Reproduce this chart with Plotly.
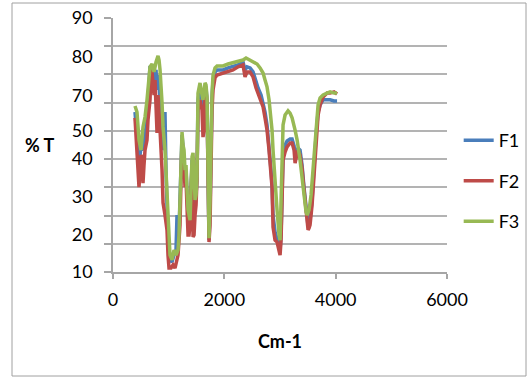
import plotly.graph_objects as go

# Wavenumber (cm-1) and %T readings for each sample
f1_x = [395, 413, 449, 467, 485, 503, 539, 575, 611, 629, 665, 701, 737, 773, 791, 809, 845, 881, 899, 934,
        952, 970, 988, 1024, 1060, 1096, 1132, 1150, 1168, 1186, 1204, 1240, 1258, 1276, 1294, 1312, 1330, 1348,
        1384, 1402, 1420, 1438, 1456, 1474, 1492, 1509, 1527, 1563, 1599, 1617, 1653, 1671, 1689, 1707, 1725,
        1743, 1761, 1779, 1797, 1833, 1869, 1977, 2067, 2156, 2246, 2336, 2372, 2408, 2462, 2516, 2570, 2606,
        2660, 2696, 2731, 2767, 2803, 2839, 2857, 2875, 2911, 2947, 2983, 3001, 3019, 3037, 3055, 3091, 3127,
        3181, 3217, 3253, 3271, 3289, 3324, 3360, 3396, 3432, 3468, 3486, 3504, 3522, 3540, 3576, 3612, 3648,
        3684, 3720, 3774, 3846, 3900, 3971, 4025]
f1_y = [56.7, 52.1, 43.2, 39.7, 41.5, 43.9, 43.2, 48.6, 53.9, 61.0, 73.0, 72.3, 68.0, 71.6, 64.5, 69.8, 62.7,
        53.9, 43.2, 56.7, 36.1, 20.2, 11.3, 4.3, 3.5, 6.0, 7.8, 20.2, 13.1, 14.9, 23.7, 48.6, 44.0, 39.7, 33.3,
        36.1, 27.3, 20.2, 20.2, 32.6, 39.7, 29.1, 25.5, 23.7, 27.3, 33.3, 61.0, 65.2, 61.0, 55.6, 65.2, 65.2,
        61.0, 23.7, 11.3, 22.0, 50.3, 61.7, 68.0, 70.9, 71.6, 71.6, 72.3, 72.7, 73.4, 74.4, 71.6, 72.7, 72.3,
        70.9, 67.3, 65.2, 62.7, 60.2, 56.7, 52.1, 45.0, 36.1, 30.8, 20.2, 14.2, 12.0, 9.6, 7.8, 13.1, 25.5,
        41.5, 45.0, 46.4, 47.1, 47.1, 44.7, 41.5, 42.5, 43.9, 43.2, 37.9, 29.8, 22.0, 17.7, 16.3, 17.0, 18.4,
        25.5, 37.9, 48.6, 56.7, 59.2, 61.0, 61.0, 61.0, 60.6, 60.6]

f2_x = [395, 413, 449, 467, 485, 503, 521, 539, 557, 575, 611, 629, 665, 683, 701, 719, 737, 755, 773, 791,
        809, 827, 845, 881, 899, 934, 970, 988, 1006, 1042, 1078, 1114, 1150, 1168, 1186, 1204, 1222, 1240,
        1258, 1276, 1294, 1312, 1330, 1348, 1366, 1384, 1402, 1420, 1438, 1456, 1474, 1492, 1509, 1527, 1563,
        1599, 1617, 1635, 1653, 1671, 1689, 1707, 1725, 1743, 1761, 1779, 1797, 1833, 1869, 1977, 2067, 2156,
        2246, 2336, 2372, 2408, 2462, 2516, 2570, 2606, 2660, 2696, 2731, 2767, 2803, 2839, 2857, 2875, 2911,
        2947, 2983, 3001, 3019, 3037, 3055, 3091, 3127, 3181, 3217, 3253, 3271, 3289, 3324, 3360, 3396, 3432,
        3468, 3486, 3504, 3522, 3540, 3576, 3612, 3648, 3684, 3720, 3774, 3846, 3900, 3971, 4025]
f2_y = [54.6, 47.5, 37.9, 30.1, 36.1, 41.5, 39.7, 31.5, 37.9, 43.2, 46.8, 53.9, 61.0, 71.6, 70.9, 66.3, 62.7,
        68.0, 57.4, 49.3, 62.7, 57.4, 50.3, 36.1, 24.5, 20.2, 14.9, 6.0, 1.4, 1.4, 2.5, 1.4, 5.0, 6.0, 11.3,
        16.7, 32.6, 46.8, 43.2, 34.4, 30.1, 32.6, 25.5, 13.1, 13.1, 16.7, 29.1, 37.9, 12.4, 13.1, 20.2, 23.7,
        32.6, 57.4, 61.0, 57.4, 47.8, 50.3, 62.7, 64.5, 59.2, 20.2, 10.6, 16.7, 43.2, 57.4, 64.5, 68.8, 69.8,
        70.5, 70.9, 71.6, 72.7, 73.4, 69.1, 70.9, 70.9, 69.1, 65.2, 63.4, 61.0, 58.5, 54.6, 50.3, 43.2, 34.4,
        30.1, 15.9, 11.3, 10.6, 7.8, 6.0, 11.3, 23.0, 39.7, 42.5, 44.3, 45.7, 45.7, 43.2, 38.6, 40.4, 43.2,
        41.5, 36.9, 29.1, 20.2, 16.7, 14.9, 15.6, 16.7, 23.7, 36.1, 46.8, 55.6, 59.2, 62.0, 63.4, 63.4, 63.8,
        63.1]

f3_x = [395, 431, 467, 503, 539, 575, 611, 629, 665, 701, 737, 773, 809, 827, 845, 881, 899, 934, 970, 988,
        1024, 1060, 1096, 1132, 1168, 1186, 1204, 1240, 1258, 1276, 1294, 1312, 1330, 1348, 1384, 1402, 1420,
        1438, 1456, 1474, 1492, 1509, 1527, 1563, 1599, 1617, 1653, 1671, 1689, 1707, 1725, 1743, 1761, 1779,
        1797, 1833, 1869, 1977, 2067, 2156, 2246, 2336, 2390, 2462, 2534, 2588, 2642, 2696, 2731, 2767, 2803,
        2821, 2857, 2875, 2911, 2947, 2983, 3001, 3019, 3037, 3055, 3091, 3145, 3181, 3217, 3271, 3307, 3360,
        3396, 3432, 3468, 3486, 3522, 3558, 3594, 3630, 3666, 3684, 3720, 3774, 3846, 3900, 3971, 4025]
f3_y = [58.8, 56.7, 46.8, 43.2, 51.4, 54.9, 61.0, 64.5, 72.7, 73.7, 70.9, 74.4, 76.6, 75.1, 71.6, 59.9, 51.4,
        43.2, 25.5, 16.7, 6.0, 4.3, 7.8, 6.0, 7.8, 13.1, 25.5, 49.6, 45.0, 43.2, 36.1, 37.9, 29.1, 22.0, 18.4,
        32.6, 40.8, 42.2, 34.4, 25.5, 27.3, 33.7, 63.4, 67.0, 62.7, 61.0, 67.0, 66.3, 62.0, 25.5, 12.0, 25.5,
        53.9, 63.4, 69.8, 72.3, 73.0, 73.0, 73.7, 74.1, 74.4, 75.1, 75.8, 75.1, 74.4, 73.7, 72.3, 70.5, 68.0,
        65.6, 61.0, 57.4, 50.3, 43.2, 30.8, 22.0, 13.1, 11.3, 25.5, 43.2, 52.1, 55.6, 57.1, 56.3, 54.6, 50.3,
        46.8, 39.7, 32.6, 25.5, 21.3, 20.2, 22.0, 27.3, 36.1, 43.2, 53.9, 59.2, 61.7, 62.7, 63.4, 63.8, 63.4,
        63.4]

series_names = ["F1", "F2", "F3"]
series_colors = ["#4A7EBB", "#BE4B48", "#98B954"]

x_ticks = [0, 2000, 4000, 6000]
y_tick_text = ["90", "80", "70", "50", "40", "30", "20", "10"]
y_tick_pos = [90, 76.2, 62.4, 50.0, 40.0, 26.6, 13.1, 0]

FONT = "Lato, 'Open Sans', sans-serif"
FS = 18

fig = go.Figure()
for name, color, xs, ys in zip(series_names, series_colors,
                               [f1_x, f2_x, f3_x], [f1_y, f2_y, f3_y]):
    fig.add_trace(go.Scatter(x=xs, y=ys, mode="lines", name=name, legendgroup=name,
                             line=dict(color=color, width=3.5)))

fig.update_layout(
    width=527, height=378,
    margin=dict(l=113, r=80, t=18, b=106, autoexpand=False),
    paper_bgcolor="white", plot_bgcolor="white",
    font=dict(family=FONT, size=FS, color="black"),
    showlegend=True,
    legend=dict(x=1.035, y=0.59, xanchor="left", yanchor="top",
                tracegroupgap=14, font=dict(size=FS, family=FONT),
                bgcolor="rgba(0,0,0,0)"),
    xaxis=dict(range=[0, 6000], tickvals=x_ticks, ticks="outside", ticklen=5,
               tickcolor="#a6a6a6", tickwidth=1.5, ticklabelstandoff=6,
               showline=True, linecolor="#a6a6a6", linewidth=1.5, showgrid=False,
               zeroline=False, tickfont=dict(size=FS),
               title=dict(text="<b>Cm-1</b>", font=dict(size=FS), standoff=26)),
    yaxis=dict(range=[0, 90], tickvals=y_tick_pos, ticktext=y_tick_text, ticks="",
               showgrid=False, zeroline=False, showline=True, linecolor="#a6a6a6",
               linewidth=1.5, tickfont=dict(size=FS), ticklabelstandoff=15,
               minor=dict(dtick=10, tick0=0, showgrid=True, gridcolor="#b3b3b3",
                          gridwidth=1.5, ticks="outside", ticklen=7,
                          tickcolor="#a6a6a6", tickwidth=1.5)),
)

fig.add_annotation(text="<b>% T</b>", xref="paper", yref="paper",
                   x=(40 - 113) / 334, y=(272 - 145) / 254, showarrow=False,
                   font=dict(size=FS, family=FONT), xanchor="center", yanchor="middle")

fig.add_shape(type="rect", xref="paper", yref="paper",
              x0=(12 - 113) / 334, x1=(526 - 113) / 334,
              y0=(272 - 376) / 254, y1=(272 - 3) / 254,
              line=dict(color="#a0a0a0", width=1), fillcolor="rgba(0,0,0,0)", layer="below")

fig.write_html("out.html")
